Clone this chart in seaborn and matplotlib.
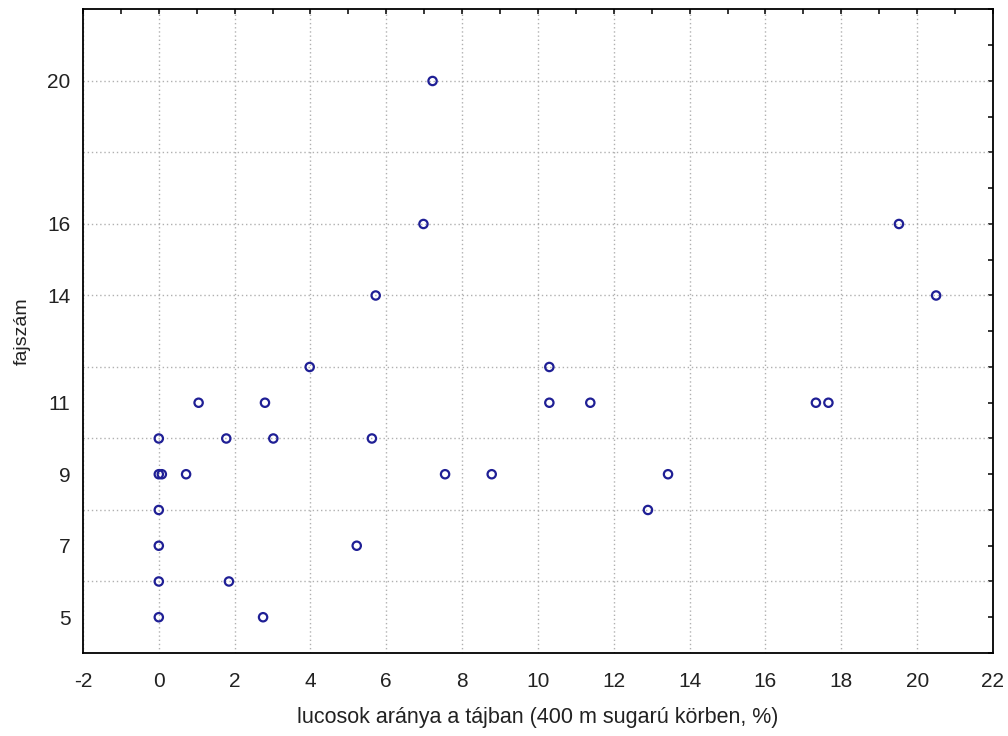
import matplotlib
matplotlib.use("Agg")
import matplotlib.pyplot as plt
import seaborn as sns
import pandas as pd
import numpy as np

# Data
lucos_pct = [0, 0, 0.08, 0, 0, 0, 0, 0.72, 1.05, 1.78, 1.85, 2.8, 2.75, 3.02,
             3.98, 5.22, 5.62, 5.72, 6.98, 7.22, 7.55, 8.78, 10.3, 10.3, 11.38,
             12.9, 13.43, 17.33, 17.66, 19.52, 20.5]
fajszam = [10, 9, 9, 8, 7, 6, 5, 9, 11, 10, 6, 11, 5, 10,
           12, 7, 10, 14, 16, 20, 9, 9, 12, 11, 11,
           8, 9, 11, 11, 16, 14]
x_ticks = [-2, 0, 2, 4, 6, 8, 10, 12, 14, 16, 18, 20, 22]
y_ticks = [5, 7, 9, 11, 14, 16, 20]
y_grid = [6, 8, 10, 12, 14, 16, 18, 20]

x_label = "lucosok aránya a tájban (400 m sugarú körben, %)"
y_label = "fajszám"

df = pd.DataFrame({"x": lucos_pct, "y": fajszam})

sns.set_style("white")
plt.rcParams["font.family"] = ["Liberation Sans", "DejaVu Sans"]

fig = plt.figure(figsize=(10.08, 7.36), dpi=100)
ax = fig.add_axes([0.0823, 0.1128, 0.9028, 0.8743])

sns.scatterplot(data=df, x="x", y="y", ax=ax, marker="o", s=36,
                facecolor="none", edgecolor="#1f1f95", linewidth=1.6, zorder=3)

ax.set_xlim(-2, 22)
ax.set_ylim(4, 22)

ax.set_xticks(x_ticks)
ax.set_xticks(np.arange(-1, 22, 2), minor=True)
ax.set_yticks(y_ticks)
ax.set_yticks(np.arange(4, 23, 1), minor=True)
ax.set_yticklabels([str(v) for v in y_ticks])
ax.set_xticklabels([str(v) for v in x_ticks])

ax.grid(axis="x", which="major", linestyle=(0, (1, 2)), color="#b0b0b0", linewidth=1.0, zorder=1)
for g in y_grid:
    ax.axhline(g, linestyle=(0, (1, 2)), color="#b0b0b0", linewidth=1.0, zorder=1)

ax.tick_params(which="both", direction="in", top=True, right=True, length=3.5,
               width=1.1, color="black", labelsize=15, labelcolor="#222222")
ax.tick_params(axis="x", which="major", pad=13.5)
ax.tick_params(axis="y", which="major", pad=9)

for sp in ax.spines.values():
    sp.set_visible(True)
    sp.set_color("black")
    sp.set_linewidth(1.3)

ax.set_xlabel(x_label, fontsize=15.5, labelpad=12, color="#222222")
ax.set_ylabel(y_label, fontsize=14, labelpad=12, color="#222222")

fig.savefig("out.png", dpi=100, facecolor="white")
